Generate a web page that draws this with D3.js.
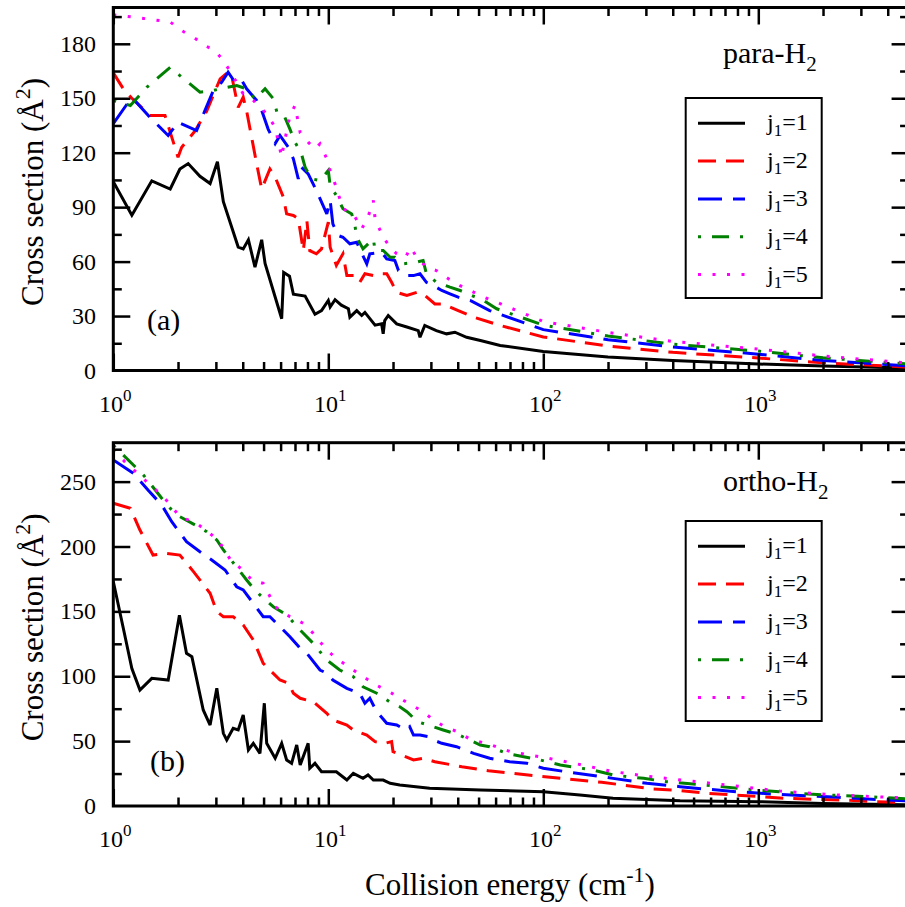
<!DOCTYPE html>
<html><head><meta charset="utf-8">
<script src="https://cdn.jsdelivr.net/npm/d3@7"></script>
<style>
html,body{margin:0;padding:0;background:#fff;}
svg{display:block;}
text{font-family:"Liberation Serif","Times New Roman",serif;fill:#000;}
</style></head>
<body><div id="chart"></div>
<script>
// ---------------- DATA ----------------
const seriesLabels = ["1", "2", "3", "4", "5"];
const seriesColors = ["#000000", "#ff0000", "#0000ff", "#008000", "#ff00ff"];
const xTickDecades = [1, 10, 100, 1000];
const xTickExponents = ["0", "1", "2", "3"];
const paraYTicks = [0, 30, 60, 90, 120, 150, 180];
const orthoYTicks = [0, 50, 100, 150, 200, 250];

// para-H2 panel (a): [collision energy (cm-1), cross section (A^2)]
const paraJ1 = [[1.0,104],[1.22,85.5],[1.51,104.5],[1.84,100],[2.04,111],[2.23,114],[2.53,107],[2.82,103],[3.05,115],[3.25,93],[3.81,68],[4.02,67],[4.25,72],[4.56,57],[4.9,72],[5.08,59],[6.07,28.5],[6.2,54],[6.6,52],[6.88,42],[7.8,41],[8.67,31],[9.3,33],[10.0,38.6],[10.2,35],[10.75,39],[11.5,36],[12.4,34],[12.6,29.4],[13.56,33],[14.3,30.3],[14.8,32],[16.5,25],[17.7,25.7],[18.0,20.2],[18.3,27.5],[19.0,30.3],[20.8,25.7],[23.2,24],[26.2,22],[26.7,18.3],[28.1,24.8],[31.8,22],[35.5,20.2],[38.8,21.1],[44,18.3],[51,16.5],[63,13.8],[100,10.5],[200,7.5],[400,5.5],[1000,3.6],[2000,2.5],[5000,1.4]];
const paraJ2 = [[1.0,164],[1.13,154],[1.22,150],[1.48,140.5],[1.74,140.5],[2.0,117.5],[2.08,123],[2.4,132],[2.72,143],[3.14,160.7],[3.42,164.4],[3.55,162.5],[3.81,145],[4.02,150.6],[4.17,143],[4.64,114],[4.9,100],[5.35,111],[5.66,106.5],[6.18,95.5],[6.4,86.3],[6.88,85.4],[7.25,83.6],[7.65,66],[7.95,82.6],[8.2,66],[8.8,64.3],[9.3,67],[10.0,81.7],[10.2,67.9],[10.9,57.9],[11.7,64.3],[12.2,52.3],[13.3,52.3],[14.0,48.6],[14.8,53.3],[16.2,52.3],[17.1,53.3],[18.7,53.3],[19.7,48.6],[20.8,43.1],[23.2,41.3],[25.8,43.1],[27.6,42.2],[31.3,36.7],[34.2,36.7],[40.2,33],[47.4,29.4],[63,24.8],[100,18.5],[200,13.5],[400,10],[1000,6.9],[2000,4.2],[5000,1.9]];
const paraJ3 = [[1.0,136],[1.22,150.6],[1.48,139.5],[1.8,129.5],[2.0,136.8],[2.44,132.2],[2.67,143.3],[2.92,154.3],[3.19,158.8],[3.42,164.4],[3.68,158.8],[3.96,159.8],[4.17,155.2],[4.64,148.8],[4.9,143.3],[5.25,133],[5.66,125],[5.96,129.5],[6.52,123],[6.88,116.6],[7.25,105.6],[7.5,112],[8.06,108.3],[8.8,99.2],[9.84,86.3],[10.2,93.7],[10.5,80.8],[11.1,74.4],[11.7,73.4],[12.6,69.8],[13.56,70.7],[14.0,67],[15.1,58.8],[15.6,64.3],[17.7,65.2],[18.7,61.5],[20.4,60.6],[21.2,55.1],[23.2,52.3],[24.9,52.3],[26.7,53.3],[28.6,48.6],[30.8,46.8],[33.7,44.1],[36.8,42.2],[40.2,40.4],[45.7,38.6],[56.3,33],[100,22.5],[200,17],[400,13],[1000,9],[2000,5.5],[5000,2.5]];
const paraJ4 = [[1.0,148.8],[1.2,146],[1.43,156],[1.84,167],[2.04,162.5],[2.53,153.3],[2.92,154.3],[3.37,156],[3.75,157],[4.17,155.2],[4.56,149.7],[5.08,155.2],[5.55,149.7],[5.77,142.3],[6.2,141],[6.63,133],[7.0,125.8],[7.5,119.4],[7.8,112],[8.35,105.6],[9.15,104.7],[10.0,110.2],[10.2,101.9],[10.9,96.4],[11.7,89.1],[12.85,86.3],[13.3,79.9],[13.56,73.4],[14.5,67],[16.2,72.5],[16.5,66.1],[18,66.1],[19.4,62.4],[20.4,62.4],[22.4,58.8],[25.8,59.7],[27.6,60.6],[28.6,53.3],[31.8,48.6],[36.8,45.9],[41,44.1],[46.5,41.3],[52.8,38.6],[60.7,34],[100,25],[200,19],[400,14.5],[1000,10.7],[2000,7],[5000,3.6]];
const paraJ5 = [[1.0,196],[1.38,194],[1.84,192],[2.08,187.3],[2.36,183.6],[2.67,179],[2.97,176.3],[3.25,170.8],[3.55,163.5],[4.02,152.4],[4.48,148.8],[5.17,141.4],[5.66,134],[6.07,117.5],[6.18,123],[6.63,140.5],[7.0,146],[7.4,131],[8.06,125.8],[8.67,122.1],[9.15,124.9],[9.84,116.6],[10.2,110.2],[10.75,102.8],[11.7,89.1],[13.07,86.3],[14.3,78],[15.3,84.5],[16.2,93.7],[16.5,83.6],[18,73.4],[19.4,67.9],[20.8,64.3],[22.9,62.4],[24.1,67.9],[25.8,62.4],[28.6,56.9],[31.8,55.1],[36.2,50.5],[41,46.8],[45.7,44.1],[52.8,40.4],[60.7,37.6],[100,27],[200,21],[400,16],[1000,11.8],[2000,8],[5000,4.1]];

// ortho-H2 panel (b)
const orthoJ1 = [[1.0,173],[1.11,138],[1.22,106],[1.33,89.4],[1.51,98.4],[1.8,97.1],[2.03,147],[2.19,117.7],[2.32,115.1],[2.62,74],[2.82,62.4],[3.03,90.7],[3.25,56],[3.37,50.9],[3.61,59.9],[3.81,58.6],[4.02,70.1],[4.25,43.2],[4.48,48.3],[4.81,40.6],[5.04,79.2],[5.17,48.3],[5.66,36.8],[6.07,48.3],[6.4,35.5],[6.75,32.9],[7.13,47],[7.4,31.6],[8.06,48.3],[8.2,29.1],[8.67,32.9],[9.3,26.4],[10.2,26.4],[10.9,26.4],[12.2,20],[13.07,25.2],[14.5,21.3],[15.3,23.9],[16.2,20],[18,20],[19.4,17.5],[21.5,16.2],[29.6,13.6],[50.9,12.3],[100,11],[148,8.5],[211,5.9],[433,4],[1000,3.3],[2000,2],[5000,1]];
const orthoJ2 = [[1.0,233.3],[1.2,229.4],[1.33,212.7],[1.53,193.4],[1.74,194.8],[2.04,193.4],[2.36,180.6],[2.82,163.9],[3.03,149.8],[3.25,145.9],[3.61,145.9],[4.02,139.5],[4.48,127.9],[4.98,110],[5.35,104.8],[5.96,97.1],[6.52,94.6],[6.88,86.9],[7.4,83],[8.5,80.4],[9.84,71.4],[10.5,66.3],[12.2,62.4],[13.07,58.6],[15.1,54.7],[16.5,49.6],[18.3,48.3],[19.7,49.6],[20.0,41.8],[21.9,39.3],[24.9,35.5],[27.6,36.8],[31.3,34.1],[41.8,30.3],[55.6,27.2],[85,23.9],[131,20.8],[187,18.3],[325,13.1],[410,12.3],[575,9.8],[765,8.5],[1018,7.2],[1330,5.9],[1800,5.2],[2485,4.6],[3430,3.3],[5000,2.6]];
const orthoJ3 = [[1.0,266.7],[1.24,256.4],[1.45,243.5],[1.68,232],[1.87,219.1],[2.19,203.7],[2.53,196],[2.87,189.6],[3.31,181.9],[3.75,169],[4.02,166.5],[4.48,156.2],[4.98,145.9],[5.35,145.9],[5.96,138.2],[6.63,130.5],[7.4,121.5],[7.95,117.7],[9.15,104.8],[9.84,102.3],[10.5,97.1],[12.2,90.7],[14.0,86.9],[14.8,79.2],[15.6,83],[16.8,72.7],[18.7,63.7],[20.8,62.4],[22.9,58.6],[23.9,61.1],[24.9,54.7],[26.7,54.7],[29.2,53.4],[30.8,50.9],[33.7,48.3],[39.5,45.7],[47.4,40.6],[56.3,36.8],[69.8,34.1],[83.9,32.9],[100,29.1],[128,26.4],[164,23.9],[211,21.3],[303,17.5],[433,14.9],[565,13.1],[795,11],[1175,9.2],[1650,7.9],[2355,6.7],[3370,5.2],[5000,4]];
const orthoJ4 = [[1.0,278],[1.24,262.8],[1.38,255.1],[1.68,237.2],[1.87,228.1],[2.04,223],[2.4,216.6],[2.72,211.4],[3.03,205],[3.25,197.3],[3.89,180.6],[4.17,174.2],[4.48,167.8],[4.98,160.1],[5.55,153.6],[6.4,147.2],[7.4,135.6],[8.5,125.4],[9.84,112.5],[11.3,104.8],[13.07,99.7],[14.5,91.9],[16.8,86.9],[19.4,80],[21.5,76.5],[23.2,72.7],[26,65],[30.8,61.1],[34.2,58.6],[40.2,55],[50.9,47],[56.3,45.7],[67.5,40.6],[96.8,35.5],[120,31.6],[170,27.7],[211,23.9],[293,21.3],[375,18.7],[555,16.2],[984,12.3],[1710,9.2],[3190,7.2],[5000,5.5]];
const orthoJ5 = [[1.0,275],[1.13,265.4],[1.27,257.7],[1.71,238.4],[2.04,223],[2.44,217.9],[3.08,205],[3.55,188.3],[4.02,181.9],[4.4,174.2],[4.98,171.6],[5.66,153.6],[6.63,145.9],[7.65,140.8],[8.5,133.1],[9.84,120.2],[10.9,113.8],[12.4,107.4],[14.5,99.7],[16.8,93],[19.7,87],[21.5,83],[24.3,78],[27.6,72.7],[30.8,66.3],[34.9,61.1],[39.5,57.5],[45.7,51.5],[56,47.5],[70,42],[100,37.5],[143,32.5],[211,26.5],[303,23],[387,21],[713,16.2],[1260,11.5],[2316,8.5],[4100,6.7],[5000,6.2]];

// ---------------- LAYOUT ----------------
const W = 905, H = 907;
const FONT_TICK = 24, FONT_SUP = 17, FONT_TITLE = 31;
const dashes = [null, "18,10", "24,11", "3,11,17,11", "3,11.5"];

const svg = d3.select("#chart").append("svg").attr("width", W).attr("height", H);

const x = d3.scaleLog().domain([1, 5000]).range([113.3, 113.3 + 215 * Math.log10(5000)]);

const panels = [
  {id: "a", data: [paraJ1, paraJ2, paraJ3, paraJ4, paraJ5], yMax: 200, yTicks: paraYTicks, minorStep: 15,
   top: 7.5, bottom: 370.5, tag: "(a)", tagX: 147, tagY: 330, gas: "para-H", gasY: 63,
   legTop: 98, legFirst: 123.3},
  {id: "b", data: [orthoJ1, orthoJ2, orthoJ3, orthoJ4, orthoJ5], yMax: 280, yTicks: orthoYTicks, minorStep: 25,
   top: 442.7, bottom: 806, tag: "(b)", tagX: 150, tagY: 771, gas: "ortho-H", gasY: 491,
   legTop: 521, legFirst: 546.3}
];

const x0 = x.range()[0], x1 = x.range()[1];
const minorX = [];
for (let d = 1; d <= 1000; d *= 10) for (let k = 2; k <= 9; k++) if (d * k <= 5000) minorX.push(d * k);

panels.forEach(p => {
  const y = d3.scaleLinear().domain([0, p.yMax]).range([p.bottom, p.top]);
  const g = svg.append("g");
  const clipId = "clip-" + p.id;
  svg.append("clipPath").attr("id", clipId).append("rect")
    .attr("x", x0).attr("y", p.top).attr("width", x1 - x0).attr("height", p.bottom - p.top);

  // series
  const line = d3.line().x(d => x(d[0])).y(d => y(d[1]));
  const lg = g.append("g").attr("clip-path", `url(#${clipId})`);
  p.data.forEach((s, i) => {
    lg.append("path").datum(s).attr("d", line)
      .attr("fill", "none").attr("stroke", seriesColors[i]).attr("stroke-width", 3)
      .attr("stroke-linejoin", "miter").attr("stroke-miterlimit", 3)
      .attr("stroke-dasharray", dashes[i]);
  });

  // axes ticks (inward) using d3 axes
  const styleAxis = sel => { sel.select(".domain").remove(); sel.selectAll("line").attr("stroke", "#000").attr("stroke-width", 2.5); };
  const minorY = d3.range(0, p.yMax + 0.001, p.minorStep).filter(v => !p.yTicks.includes(v) && v < p.yMax);
  const majY = p.yTicks.filter(v => v > 0);

  g.append("g").attr("transform", `translate(0,${p.bottom})`)
    .call(d3.axisBottom(x).tickValues(xTickDecades).tickSize(-17).tickFormat("")).call(styleAxis);
  g.append("g").attr("transform", `translate(0,${p.bottom})`)
    .call(d3.axisBottom(x).tickValues(minorX).tickSize(-8.5).tickFormat("")).call(styleAxis);
  g.append("g").attr("transform", `translate(0,${p.top})`)
    .call(d3.axisTop(x).tickValues(xTickDecades).tickSize(-17).tickFormat("")).call(styleAxis);
  g.append("g").attr("transform", `translate(0,${p.top})`)
    .call(d3.axisTop(x).tickValues(minorX).tickSize(-8.5).tickFormat("")).call(styleAxis);
  g.append("g").attr("transform", `translate(${x0},0)`)
    .call(d3.axisLeft(y).tickValues(majY).tickSize(-17).tickFormat("")).call(styleAxis);
  g.append("g").attr("transform", `translate(${x0},0)`)
    .call(d3.axisLeft(y).tickValues(minorY).tickSize(-8.5).tickFormat("")).call(styleAxis);
  g.append("g").attr("transform", `translate(${x1},0)`)
    .call(d3.axisRight(y).tickValues(majY).tickSize(-17).tickFormat("")).call(styleAxis);
  g.append("g").attr("transform", `translate(${x1},0)`)
    .call(d3.axisRight(y).tickValues(minorY).tickSize(-8.5).tickFormat("")).call(styleAxis);

  // frame
  g.append("rect").attr("x", x0).attr("y", p.top).attr("width", x1 - x0).attr("height", p.bottom - p.top)
    .attr("fill", "none").attr("stroke", "#000").attr("stroke-width", 3);

  // y tick labels
  p.yTicks.forEach(v => {
    g.append("text").attr("x", 96).attr("y", y(v) + 8).attr("text-anchor", "end")
      .attr("font-size", FONT_TICK).text(v);
  });
  // x tick labels
  xTickDecades.forEach((v, i) => {
    const t = g.append("text").attr("x", x(v) + 2).attr("y", p.bottom + 41).attr("text-anchor", "middle")
      .attr("font-size", FONT_TICK);
    t.append("tspan").text("10");
    t.append("tspan").attr("dy", -11).attr("font-size", FONT_SUP).text(xTickExponents[i]);
  });

  // y title
  const yc = (p.top + p.bottom) / 2 + 3;
  const yt = g.append("text").attr("transform", `translate(43,${yc}) rotate(-90)`)
    .attr("text-anchor", "middle").attr("font-size", FONT_TITLE);
  yt.append("tspan").text("Cross section (Å");
  yt.append("tspan").attr("dy", -13).attr("font-size", 22).text("2");
  yt.append("tspan").attr("dy", 13).text(")");

  // panel tag
  g.append("text").attr("x", p.tagX).attr("y", p.tagY).attr("font-size", 30).text(p.tag);
  // gas label
  const gt = g.append("text").attr("x", 723).attr("y", p.gasY).attr("font-size", 30);
  gt.append("tspan").text(p.gas);
  gt.append("tspan").attr("dy", 8).attr("font-size", 21).text("2");

  // legend
  const lgd = g.append("g");
  lgd.append("rect").attr("x", 685.7).attr("y", p.legTop).attr("width", 136).attr("height", 200)
    .attr("fill", "#fff").attr("stroke", "#000").attr("stroke-width", 2);
  seriesLabels.forEach((lab, i) => {
    const ly = p.legFirst + i * 37.8;
    lgd.append("line").attr("x1", 698).attr("x2", 745).attr("y1", ly).attr("y2", ly)
      .attr("stroke", seriesColors[i]).attr("stroke-width", 3).attr("stroke-dasharray", dashes[i]);
    const t = lgd.append("text").attr("x", 767).attr("y", ly + 7).attr("font-size", FONT_TICK);
    t.append("tspan").text("j");
    t.append("tspan").attr("dy", 6).attr("font-size", FONT_SUP).text("1");
    t.append("tspan").attr("dy", -6).text("=" + lab);
  });
});

// x title
const xt = svg.append("text").attr("x", 510).attr("y", 895).attr("text-anchor", "middle").attr("font-size", FONT_TITLE);
xt.append("tspan").text("Collision energy (cm");
xt.append("tspan").attr("dy", -13).attr("font-size", 22).text("-1");
xt.append("tspan").attr("dy", 13).text(")");
</script></body></html>
